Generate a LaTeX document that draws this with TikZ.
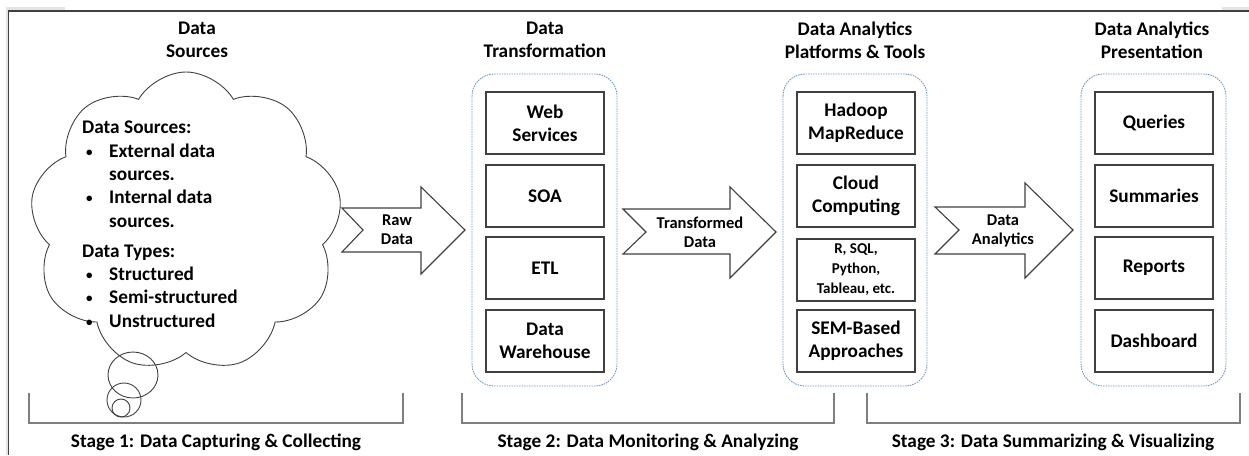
\documentclass[tikz,border=0pt]{standalone}
\usepackage{fontspec}
\setmainfont{Carlito}
\usetikzlibrary{shapes.symbols}
\definecolor{boxline}{HTML}{404040}
\definecolor{contline}{HTML}{6F97C7}
\definecolor{brk}{HTML}{7F7F7F}
\definecolor{strip}{HTML}{E4E4E4}
\newcommand{\blt}{{\fontsize{13}{13}\selectfont\raisebox{1pt}{•}}}
\tikzset{
  txt/.style={font=\bfseries\fontsize{19.3}{23}\selectfont, align=center, inner sep=0pt},
  smalltxt/.style={font=\bfseries\fontsize{16.5}{19}\selectfont, align=center, inner sep=0pt},
  itembox/.style={draw=boxline, line width=1.2pt, minimum width=118pt, minimum height=62pt, inner sep=0pt, align=center, font=\bfseries\fontsize{19.3}{23}\selectfont},
  container/.style={draw=contline, line width=0.9pt, dash pattern=on 1.5pt off 1pt, rounded corners=22pt},
  blockarrow/.style={draw=boxline, line width=1.1pt, fill=white, line join=miter},
  bracket/.style={draw=brk, line width=1.6pt},
}
\begin{document}
\begin{tikzpicture}[x=1pt,y=-1pt]
\useasboundingbox (0,0) rectangle (1249,455);
% frame
\fill[strip] (6,7) rectangle (65,11);
\fill[strip] (6,7) rectangle (8,455);
\fill[strip] (1222,7) rectangle (1249,11);
\draw[boxline, line width=1.5pt] (8.5,455) -- (8.5,11) -- (1249,11);

% titles
\node[txt] (t1) at (197,40) {Data\\Sources};
\node[txt] (t2) at (545,40) {Data\\Transformation};
\node[txt] (t3) at (855,40) {Data Analytics\\Platforms \& Tools};
\node[txt] (t4) at (1152,40) {Data Analytics\\Presentation};

% cloud
\node[cloud, draw=boxline, line width=0.9pt, cloud puffs=9, cloud puff arc=120, cloud ignores aspect, minimum width=312pt, minimum height=300pt, inner sep=0pt] (cloud) at (186,222) {};
\draw[boxline, line width=0.9pt] (133,375) circle [x radius=25, y radius=23];
\draw[boxline, line width=0.9pt] (124,400) circle [radius=17];
\draw[boxline, line width=0.9pt] (121,408) circle [radius=9];
\node[anchor=north west, inner sep=0pt, align=left, font=\bfseries\fontsize{19.3}{23.3}\selectfont] (cloudtext) at (82,121) {%
Data Sources:\\
\hspace*{4pt}\makebox[23pt][l]{\blt}External data\\
\hspace*{27pt}sources.\\
\hspace*{4pt}\makebox[23pt][l]{\blt}Internal data\\
\hspace*{27pt}sources.\\[7pt]
Data Types:\\
\hspace*{4pt}\makebox[23pt][l]{\blt}Structured\\
\hspace*{4pt}\makebox[23pt][l]{\blt}Semi-structured\\
\hspace*{4pt}\makebox[23pt][l]{\blt}Unstructured};

% containers
\draw[container] (472,74) rectangle (617,386);
\draw[container] (783,74) rectangle (927,386);
\draw[container] (1081,74) rectangle (1226,386);

% boxes column 1
\node[itembox] (b11) at (545,123) {Web\\Services};
\node[itembox] (b12) at (545,196) {SOA};
\node[itembox] (b13) at (545,268) {ETL};
\node[itembox] (b14) at (545,341) {Data\\Warehouse};
% column 2
\node[itembox] (b21) at (856,123) {Hadoop\\MapReduce};
\node[itembox] (b22) at (856,196) {Cloud\\Computing};
\node[itembox, font=\bfseries\fontsize{15}{20}\selectfont] (b23) at (856,270) {R, SQL,\\Python,\\Tableau, etc.};
\node[itembox] (b24) at (856,341) {SEM-Based\\Approaches};
% column 3
\node[itembox] (b31) at (1154,123) {Queries};
\node[itembox] (b32) at (1154,196) {Summaries};
\node[itembox] (b33) at (1154,268) {Reports};
\node[itembox] (b34) at (1154,341) {Dashboard};

% block arrows
\draw[blockarrow] (342,208) -- (421,208) -- (421,187) -- (465,230) -- (421,274) -- (421,252) -- (342,252) -- (363,230) -- cycle;
\node[smalltxt] (a1) at (397,230) {Raw\\Data};
\draw[blockarrow] (623,209) -- (730,209) -- (730,187) -- (776,232) -- (730,278) -- (730,254) -- (623,254) -- (646,232) -- cycle;
\node[smalltxt] (a2) at (700,232) {Transformed\\Data};
\draw[blockarrow] (935,207) -- (1025,207) -- (1025,183) -- (1073,230) -- (1025,278) -- (1025,254) -- (935,254) -- (959,230) -- cycle;
\node[smalltxt] (a3) at (1003,231) {Data\\Analytics};

% brackets
\draw[bracket] (29,393) -- (29,423) -- (403,423) -- (403,393);
\draw[bracket] (462,393) -- (462,423) -- (834,423) -- (834,393);
\draw[bracket] (867,393) -- (867,423) -- (1240,423) -- (1240,393);
\node[txt] (s1) at (216,442) {Stage 1: Data Capturing \& Collecting};
\node[txt] (s2) at (648,442) {Stage 2: Data Monitoring \& Analyzing};
\node[txt] (s3) at (1053,442) {Stage 3: Data Summarizing \& Visualizing};
\end{tikzpicture}
\end{document}
